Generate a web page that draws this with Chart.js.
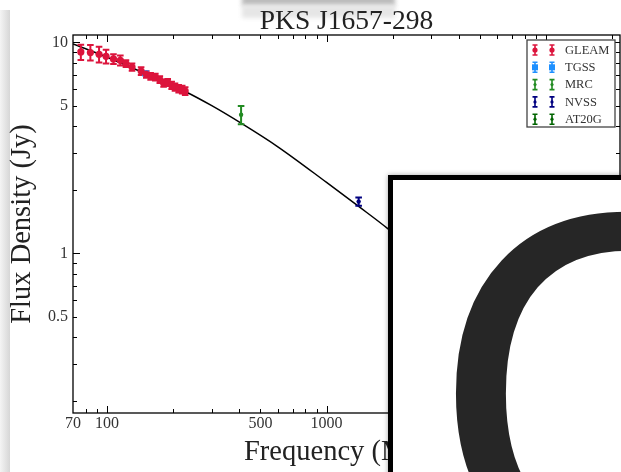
<!DOCTYPE html>
<html>
<head>
<meta charset="utf-8">
<script src="https://cdn.jsdelivr.net/npm/chart.js@4.4.1/dist/chart.umd.min.js"></script>
<style>
  html, body { margin: 0; padding: 0; background: #fff; }
  #wrap { position: relative; width: 621px; height: 472px; overflow: hidden; background: #fff; }
  #edge { position: absolute; left: 0; top: 10px; width: 10px; height: 470px; background: linear-gradient(to right, #f4f4f4, #d6d6d6); }
  #smudge { position: absolute; left: 242px; top: -5px; width: 153px; height: 11px; background: #bcbcbc; filter: blur(2px); }
  #smudge2 { position: absolute; left: 242px; top: 5px; width: 153px; height: 13px; background: #e6e6e6; filter: blur(2px); }
  canvas { position: absolute; left: 0; top: 0; }
  #cover { position: absolute; left: 388px; top: 175px; width: 400px; height: 400px; box-sizing: border-box;
           border: 5.5px solid #000; background: #fff; box-shadow: 0 0 5px rgba(0,0,0,0.35); overflow: hidden; }
  #cover span { position: absolute; left: 36px; top: -18px; font-family: "DejaVu Sans"; font-size: 480px;
                line-height: 1; color: #262626; }
</style>
</head>
<body>
<div id="wrap">
  <div id="edge"></div>
  <div id="smudge"></div>
  <div id="smudge2"></div>
  <canvas id="sedChart" width="621" height="472"></canvas>
  <div id="cover"><span>C</span></div>
</div>
<script>
// values (MHz, Jy)
const gleamFreq = [76, 84, 92, 99, 107, 115, 122, 130, 143, 151, 158, 166, 174, 181, 189, 197, 204, 212, 220, 227];
const gleamFlux = [9.0, 8.95, 8.78, 8.58, 8.34, 8.22, 7.93, 7.64, 7.31, 7.05, 6.90, 6.85, 6.66, 6.41, 6.46, 6.26, 6.14, 6.03, 5.97, 5.88];
const gleamErr  = [0.75, 0.75, 0.75, 0.65, 0.45, 0.45, 0.3, 0.3, 0.3, 0.25, 0.25, 0.25, 0.25, 0.25, 0.25, 0.25, 0.25, 0.25, 0.25, 0.25];
const tgssFreq = [150];   const tgssFlux = [7.11];  const tgssErr = [0.1];
const mrcFreq = [408];    const mrcFlux = [4.54];   const mrcErr = [0.45];
const nvssFreq = [1400];  const nvssFlux = [1.76];  const nvssErr = [0.08];
const at20gFreq = [20000]; const at20gFlux = [0.25]; const at20gErr = [0.03];

const fitFreq = [70, 100, 150, 227, 300, 408, 600, 1000, 1400, 1900, 3000, 5000, 10000];
const fitFlux = [9.83, 8.5, 7.1, 5.85, 5.01, 4.14, 3.2, 2.17, 1.67, 1.31, 0.875, 0.52, 0.3];

const xLabels = [70, 100, 500, 1000, 5000, 10000];
const xMajor = [100, 1000, 10000];
const xMinor = [80, 90, 200, 300, 400, 500, 600, 700, 800, 900, 2000, 3000, 4000, 5000, 6000, 7000, 8000, 9000, 20000];
const yLabels = [0.5, 1, 5, 10];
const yMajor = [1, 10];
const yMinor = [0.2, 0.3, 0.4, 0.5, 0.6, 0.7, 0.8, 0.9, 2, 3, 4, 5, 6, 7, 8, 9];

const SERIF = "'Liberation Serif', serif";

function pts(xs, ys) {
  return xs.map((x, i) => ({ x: x, y: ys[i] }));
}

function survey(label, xs, ys, errs, color, style, radius) {
  return {
    type: "scatter",
    label,
    data: pts(xs, ys),
    yErr: errs,
    backgroundColor: color,
    borderColor: color,
    borderWidth: 0,
    pointStyle: style,
    pointRadius: radius,
    order: 1
  };
}

const surveys = [
  survey("GLEAM", gleamFreq, gleamFlux, gleamErr, "#dc143c", "circle", 3.6),
  survey("TGSS", tgssFreq, tgssFlux, tgssErr, "#1e90ff", "rect", 4.5),
  survey("MRC", mrcFreq, mrcFlux, mrcErr, "#228b22", "circle", 2.2),
  survey("NVSS", nvssFreq, nvssFlux, nvssErr, "#000080", "circle", 2.2),
  survey("AT20G", at20gFreq, at20gFlux, at20gErr, "#006400", "circle", 2.2)
];

const fitSet = {
  type: "line",
  label: "fit",
  data: pts(fitFreq, fitFlux),
  borderColor: "#000",
  borderWidth: 1.5,
  pointRadius: 0,
  cubicInterpolationMode: "monotone",
  order: 10
};

function errBar(ctx, x, yTop, yBot, cap) {
  ctx.beginPath();
  ctx.moveTo(x, yTop); ctx.lineTo(x, yBot);
  ctx.moveTo(x - cap, yTop); ctx.lineTo(x + cap, yTop);
  ctx.moveTo(x - cap, yBot); ctx.lineTo(x + cap, yBot);
  ctx.stroke();
}

// error bars go right after the fit line, under the markers
const errorBars = {
  id: "errorBars",
  afterDatasetDraw(chart, args) {
    if (chart.data.datasets[args.index] !== fitSet) return;
    const ctx = chart.ctx, xs = chart.scales.x, ys = chart.scales.y;
    ctx.save();
    ctx.lineWidth = 2;
    surveys.forEach(ds => {
      ctx.strokeStyle = ds.borderColor;
      ds.data.forEach((p, i) => {
        const e = ds.yErr[i];
        errBar(ctx, xs.getPixelForValue(p.x), ys.getPixelForValue(p.y + e), ys.getPixelForValue(p.y - e), 3.3);
      });
    });
    ctx.restore();
  }
};

const frame = {
  id: "frame",
  afterDraw(chart) {
    const ctx = chart.ctx, xs = chart.scales.x, ys = chart.scales.y;
    const { left, right, top, bottom } = chart.chartArea;
    ctx.save();
    ctx.strokeStyle = "#000";
    ctx.lineWidth = 1.3;
    ctx.strokeRect(left, top, right - left, bottom - top);
    ctx.lineWidth = 1;
    ctx.beginPath();
    const xt = (v, len) => {
      const p = Math.round(xs.getPixelForValue(v)) + 0.5;
      ctx.moveTo(p, bottom); ctx.lineTo(p, bottom - len);
      ctx.moveTo(p, top); ctx.lineTo(p, top + len);
    };
    const yt = (v, len) => {
      const p = Math.round(ys.getPixelForValue(v)) + 0.5;
      ctx.moveTo(left, p); ctx.lineTo(left + len, p);
      ctx.moveTo(right, p); ctx.lineTo(right - len, p);
    };
    xMajor.forEach(v => xt(v, 7));
    xMinor.forEach(v => xt(v, 4));
    yMajor.forEach(v => yt(v, 7));
    yMinor.forEach(v => yt(v, 4));
    ctx.stroke();

    // legend box, top right inside the axes
    const bx = right - 93, by = top + 5, bw = 88, bh = 87;
    ctx.fillStyle = "#fff";
    ctx.fillRect(bx, by, bw, bh);
    ctx.strokeStyle = "#444";
    ctx.lineWidth = 1.3;
    ctx.strokeRect(bx, by, bw, bh);
    ctx.font = "12.5px " + SERIF;
    ctx.textBaseline = "middle";
    ctx.textAlign = "left";
    surveys.forEach((ds, i) => {
      const cy = by + 10 + i * 17.3;
      [bx + 8, bx + 25].forEach(mx => {
        ctx.strokeStyle = ds.borderColor;
        ctx.fillStyle = ds.backgroundColor;
        ctx.lineWidth = 1.6;
        errBar(ctx, mx, cy - 5, cy + 5, 2.5);
        if (ds.pointStyle === "rect") {
          ctx.fillRect(mx - 3, cy - 3, 6, 6);
        } else {
          ctx.beginPath();
          ctx.arc(mx, cy, ds.pointRadius > 3 ? 2.6 : 1.6, 0, Math.PI * 2);
          ctx.fill();
        }
      });
      ctx.fillStyle = "#333";
      ctx.fillText(ds.label, bx + 38, cy + 0.5);
    });
    ctx.restore();
  }
};

new Chart(document.getElementById("sedChart"), {
  data: { datasets: [...surveys, fitSet] },
  options: {
    responsive: false,
    animation: false,
    layout: { autoPadding: false, padding: { top: 0, right: 1, left: 0, bottom: 0 } },
    plugins: {
      legend: { display: false },
      tooltip: { enabled: false },
      title: {
        display: true,
        text: "PKS J1657-298",
        fullSize: false,
        color: "#222",
        font: { family: SERIF, size: 27.5, weight: "normal", lineHeight: 1 },
        padding: { top: 7.75, bottom: -0.25 }
      }
    },
    scales: {
      x: {
        type: "logarithmic",
        min: 70,
        max: 21700,
        grid: { display: false, drawTicks: false },
        border: { display: false },
        afterBuildTicks: s => { s.ticks = xLabels.map(v => ({ value: v })); },
        afterFit: s => { s.height = 59; s.paddingLeft = 0; s.paddingRight = 0; },
        ticks: {
          autoSkip: false, maxRotation: 0, padding: 1, color: "#333",
          font: { family: SERIF, size: 16 },
          callback: v => String(v)
        },
        title: {
          display: true, text: "Frequency (MHz)", color: "#222",
          font: { family: SERIF, size: 28.5 },
          padding: { top: 0, bottom: 2.7 }
        }
      },
      y: {
        type: "logarithmic",
        min: 0.1755,
        max: 10.83,
        grid: { display: false, drawTicks: false },
        border: { display: false },
        afterBuildTicks: s => { s.ticks = yLabels.map(v => ({ value: v })); },
        afterFit: s => { s.width = 73; s.paddingTop = 0; s.paddingBottom = 0; },
        ticks: {
          autoSkip: false, padding: 5, color: "#333",
          font: { family: SERIF, size: 16 },
          callback: v => String(v)
        },
        title: {
          display: true, text: "Flux Density (Jy)", color: "#222",
          font: { family: SERIF, size: 28.5 },
          padding: { top: 5, bottom: 0 }
        }
      }
    }
  },
  plugins: [errorBars, frame]
});
</script>
</body>
</html>
